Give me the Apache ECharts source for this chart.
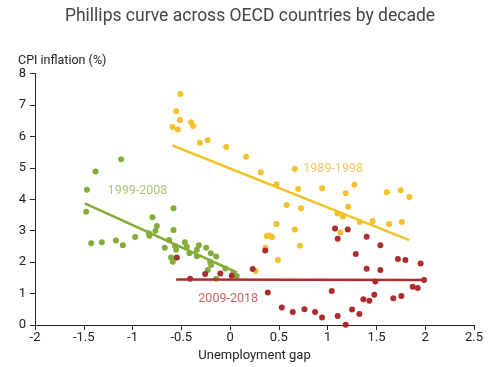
<!DOCTYPE html>
<html><head><meta charset="utf-8">
<script src="https://cdn.jsdelivr.net/npm/echarts@6/dist/echarts.min.js"></script>
<style>html,body{margin:0;padding:0;background:#fff}#c{width:500px;height:367px}</style>
</head><body><div id="c"></div>
<script>
var titleText = 'Phillips curve across OECD countries by decade';
var yName = 'CPI inflation (%)';
var xName = 'Unemployment gap';
var seriesNames = ['1989-1998', '1999-2008', '2009-2018'];

var pts1989 = [[-0.51,7.35],[-0.553,6.8],[-0.515,6.52],[-0.59,6.30],[-0.536,6.22],[-0.40,6.45],[-0.38,6.33],[-0.31,5.80],[-0.23,5.88],[-0.04,5.66],[0.164,5.35],[0.314,4.86],[0.475,4.48],[0.663,4.96],[0.697,4.33],[0.943,4.35],[0.58,3.82],[0.727,3.71],[0.475,3.21],[0.663,3.04],[0.376,2.83],[0.403,2.85],[0.43,2.80],[0.717,2.52],[0.362,2.46],[0.49,2.07],[0.26,1.72],[1.274,4.46],[1.185,4.19],[1.605,4.22],[1.749,4.29],[1.837,4.07],[1.21,3.76],[1.10,3.55],[1.155,3.45],[1.33,3.28],[1.46,3.31],[1.63,3.21],[1.76,3.28],[1.13,2.94]];
var pts1999 = [[-1.38,4.88],[-1.117,5.27],[-1.468,4.30],[-1.475,3.60],[-1.424,2.60],[-1.315,2.63],[-1.171,2.69],[-1.10,2.54],[-0.973,2.80],[-0.833,2.92],[-0.827,2.84],[-0.796,3.43],[-0.751,3.15],[-0.765,3.00],[-0.58,3.71],[-0.58,3.02],[-0.625,2.70],[-0.67,2.46],[-0.564,2.51],[-0.553,2.39],[-0.605,2.15],[-0.587,2.01],[-0.464,2.63],[-0.444,2.49],[-0.417,2.28],[-0.32,2.54],[-0.341,2.39],[-0.341,2.19],[-0.246,2.46],[-0.198,2.28],[-0.143,2.18],[-0.205,2.01],[-0.195,1.91],[-0.229,1.75],[-0.05,1.80],[0.034,1.65],[0.068,1.56],[-0.143,1.47]];
var pts2009 = [[-0.546,2.15],[-0.41,1.47],[-0.256,1.62],[-0.10,1.64],[0.017,1.57],[0.232,1.78],[0.36,2.37],[0.386,1.03],[0.53,0.56],[0.642,0.41],[0.762,0.50],[0.871,0.41],[0.943,0.24],[1.042,1.08],[1.103,0.29],[1.185,0.01],[1.25,0.49],[1.325,0.35],[1.366,0.82],[1.427,0.77],[1.478,0.96],[1.489,1.38],[1.40,1.79],[1.54,1.75],[1.288,2.26],[1.54,2.54],[1.40,2.81],[1.076,3.07],[1.103,2.74],[1.206,3.04],[1.673,0.85],[1.755,0.92],[1.72,2.10],[1.797,2.07],[1.953,1.96],[1.872,1.22],[1.923,1.18],[1.988,1.43]];

var trend1989 = [[-0.59,5.71],[1.837,2.70]];
var trend1999 = [[-1.49,3.87],[0.07,1.67]];
var trend2009 = [[-0.553,1.45],[1.99,1.43]];

var xTicks = {min: -2, max: 2.5, step: 0.5};
var yTicks = {min: 0, max: 8, step: 1};

var cYellow = '#F5C12A', cGreen = '#84AC38', cRed = '#AC2C2F';
var font = 'Roboto, "Noto Sans", sans-serif';

function labelSeries(name, pos, color) {
  return {type: 'scatter', data: [pos], symbolSize: 0, silent: true, z: 5,
    label: {show: true, position: 'inside', formatter: name, color: color, fontSize: 12.5, fontFamily: font}};
}

var chart = echarts.init(document.getElementById('c'), null, {renderer: 'canvas'});
chart.setOption({
  animation: false,
  title: [
    {text: titleText, left: 'center', top: 3, textStyle: {fontSize: 17.5, fontWeight: 'normal', color: '#444', fontFamily: font}},
    {text: yName, left: 13, top: 49, textStyle: {fontSize: 12.5, fontWeight: 'normal', color: '#222', fontFamily: font}}
  ],
  grid: {left: 35, right: 26, top: 73.5, bottom: 42, containLabel: false},
  xAxis: {type: 'value', min: xTicks.min, max: xTicks.max, interval: xTicks.step,
    name: xName, nameLocation: 'middle', nameGap: 22,
    nameTextStyle: {fontSize: 13, color: '#222', fontFamily: font},
    axisLine: {onZero: false, lineStyle: {color: '#222', width: 1}},
    axisTick: {show: true, length: 5, lineStyle: {color: '#222'}},
    axisLabel: {fontSize: 13, color: '#222', fontFamily: font, margin: 6},
    splitLine: {show: false}},
  yAxis: {type: 'value', min: yTicks.min, max: yTicks.max, interval: yTicks.step,
    axisLine: {show: true, onZero: false, lineStyle: {color: '#222', width: 1}},
    axisTick: {show: true, length: 5, lineStyle: {color: '#222'}},
    axisLabel: {fontSize: 13, color: '#222', fontFamily: font, margin: 9},
    splitLine: {show: false}},
  series: [
    {name: seriesNames[0], type: 'scatter', data: pts1989, symbolSize: 6, itemStyle: {color: cYellow, opacity: 1}},
    {name: seriesNames[1], type: 'scatter', data: pts1999, symbolSize: 6, itemStyle: {color: cGreen, opacity: 1}},
    {name: seriesNames[2], type: 'scatter', data: pts2009, symbolSize: 6, itemStyle: {color: cRed, opacity: 1}},
    {type: 'line', data: trend1989, symbol: 'none', lineStyle: {color: cYellow, width: 2.5}, z: 3},
    {type: 'line', data: trend1999, symbol: 'none', lineStyle: {color: cGreen, width: 2.5}, z: 3},
    {type: 'line', data: trend2009, symbol: 'none', lineStyle: {color: cRed, width: 2.5}, z: 3},
    labelSeries(seriesNames[0], [1.056, 4.96], '#EDB733'),
    labelSeries(seriesNames[1], [-0.95, 4.27], '#93B455'),
    labelSeries(seriesNames[2], [-0.02, 0.83], '#BF383C')
  ]
});
</script></body></html>
